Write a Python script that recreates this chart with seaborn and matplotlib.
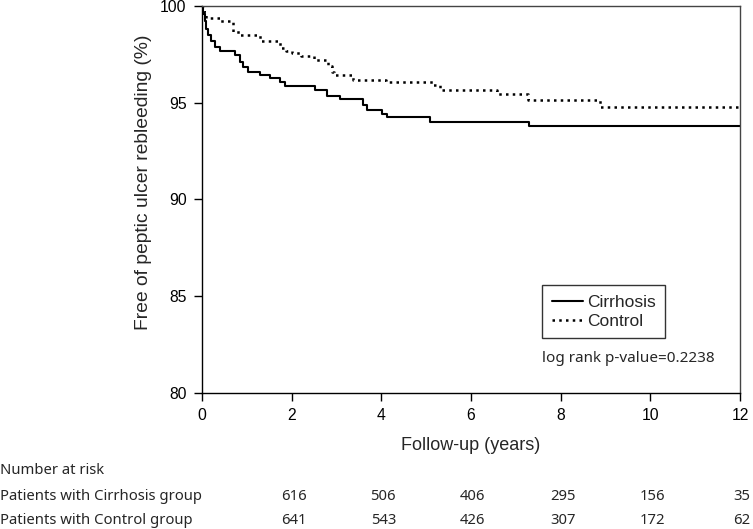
import matplotlib
matplotlib.use("Agg")
import matplotlib.pyplot as plt
import seaborn as sns
import pandas as pd

# ---- data ----
cirr_t = [0, 0.03, 0.06, 0.1, 0.13, 0.2, 0.29, 0.4, 0.74, 0.85, 0.91, 1.03, 1.29, 1.52,
          1.74, 1.85, 2.52, 2.79, 3.08, 3.59, 3.68, 4.02, 4.13, 5.09, 7.3, 12]
cirr_s = [100, 99.6, 99.2, 98.8, 98.5, 98.2, 97.9, 97.7, 97.45, 97.1, 96.85, 96.6, 96.45, 96.3,
          96.05, 95.85, 95.65, 95.35, 95.2, 94.9, 94.6, 94.4, 94.25, 94.0, 93.78, 93.78]
ctrl_t = [0, 0.05, 0.1, 0.4, 0.7, 0.85, 1.3, 1.74, 1.87, 2.0, 2.2, 2.5, 2.8, 2.9, 2.95,
          3.37, 4.1, 5.15, 5.3, 6.58, 7.27, 8.88, 12]
ctrl_s = [100, 99.7, 99.4, 99.25, 98.65, 98.5, 98.2, 97.85, 97.7, 97.55, 97.4, 97.2, 96.9,
          96.6, 96.45, 96.2, 96.05, 95.9, 95.66, 95.44, 95.14, 94.76, 94.76]
groups = ["Cirrhosis", "Control"]
risk_times = [2, 4, 6, 8, 10, 12]
risk_cirr = [616, 506, 406, 295, 156, 35]
risk_ctrl = [641, 543, 426, 307, 172, 62]
row_labels = ["Patients with Cirrhosis group", "Patients with Control group"]
x_ticks = [0, 2, 4, 6, 8, 10, 12]
y_ticks = [80, 85, 90, 95, 100]

sns.set_style("ticks")
plt.rcParams['font.family'] = ['Liberation Sans', 'DejaVu Sans']

W, H = 753, 529
fig = plt.figure(figsize=(W / 100, H / 100), dpi=100)
ax = fig.add_axes([202 / W, 1 - 393 / H, (740 - 202) / W, (393 - 6) / H])

df_c = pd.DataFrame({"t": cirr_t, "s": cirr_s})
df_k = pd.DataFrame({"t": ctrl_t, "s": ctrl_s})
sns.lineplot(data=df_c, x="t", y="s", ax=ax, color="black", lw=1.5,
             drawstyle="steps-post", label=groups[0], estimator=None, sort=False)
sns.lineplot(data=df_k, x="t", y="s", ax=ax, color="black", lw=1.8,
             drawstyle="steps-post", label=groups[1], estimator=None, sort=False,
             linestyle=(0, (1.0, 1.7)))

ax.set_xlim(0, 12)
ax.set_ylim(80, 100)
ax.set_xticks(x_ticks)
ax.set_yticks(y_ticks)
ax.tick_params(axis="both", direction="out", length=6, width=1, colors="black",
               labelsize=11.3, pad=5)
for sp in ax.spines.values():
    sp.set_visible(True)
    sp.set_color("#444444")
    sp.set_linewidth(1)
ax.spines["left"].set_color("black")
ax.spines["bottom"].set_color("black")

ax.set_xlabel("Follow-up (years)", fontsize=13, labelpad=10)
ax.set_ylabel("Free of peptic ulcer rebleeding (%)", fontsize=13.9)
ax.yaxis.set_label_coords(-(202 - 152) / 538, (393 - 182) / 387)

leg = ax.legend(loc="upper left", bbox_to_anchor=((542 - 202) / 538, 1 - (285 - 6) / 387),
                frameon=True, fancybox=False, edgecolor="black", fontsize=12.5,
                handlelength=1.8, handletextpad=0.25, borderpad=0.55, labelspacing=0.22,
                borderaxespad=0)
leg.get_frame().set_linewidth(1)

seg = ['Noto Sans', 'DejaVu Sans']
ax.text((542 - 202) / 538, 1 - (358 - 6) / 387, "log rank p-value=0.2238",
        transform=ax.transAxes, ha="left", va="center", fontsize=11, family=seg)

def fy(py):
    return 1 - py / H

fig.text(0, fy(470), "Number at risk", ha="left", va="center", fontsize=10.7, family=seg)
for row_y, lab, vals in [(496, row_labels[0], risk_cirr), (520, row_labels[1], risk_ctrl)]:
    fig.text(0, fy(row_y), lab, ha="left", va="center", fontsize=10.7, family=seg)
    for t, v in zip(risk_times, vals):
        xpix = 202 + t * (538 / 12) + 2
        fig.text(xpix / W, fy(row_y), str(v), ha="center", va="center", fontsize=10.7,
                 family=seg)

fig.savefig("out.png", dpi=100)
